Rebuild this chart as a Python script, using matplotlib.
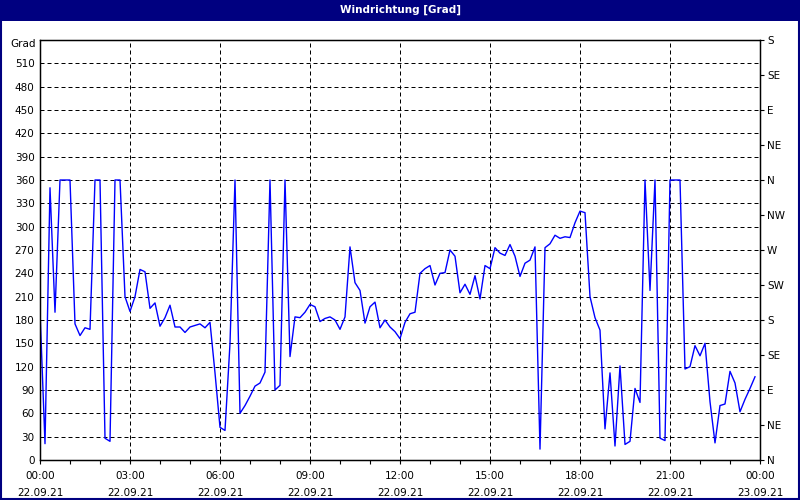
import numpy as np
import pandas as pd
import matplotlib
matplotlib.use('Agg')
import matplotlib.pyplot as plt
import matplotlib.dates as mdates
from matplotlib.patches import Rectangle

# wind direction every 10 minutes, 22.09.21 00:00 .. 23:50
direction = [192, 21, 350, 190, 360, 360, 360, 175, 160, 170,
             168, 360, 360, 28, 24, 360, 360, 210, 191, 210,
             245, 242, 195, 202, 172, 183, 199, 171, 171, 164,
             171, 173, 175, 170, 177, 112, 42, 38, 150, 360,
             60, 70, 82, 95, 99, 113, 360, 90, 96, 360,
             133, 184, 183, 190, 200, 197, 178, 182, 184, 180,
             168, 184, 274, 228, 218, 176, 197, 203, 170, 180,
             171, 165, 156, 177, 188, 190, 240, 246, 250, 225,
             240, 241, 270, 262, 215, 226, 213, 237, 207, 250,
             246, 273, 266, 263, 277, 262, 236, 253, 257, 274,
             14, 273, 278, 289, 285, 287, 286, 305, 320, 318,
             210, 183, 167, 40, 112, 18, 121, 20, 24, 92,
             74, 360, 218, 360, 28, 25, 360, 360, 360, 117,
             120, 147, 134, 150, 75, 22, 70, 72, 114, 99,
             62, 78, 92, 107]
times = pd.date_range('2021-09-22 00:00', periods=len(direction), freq='10min')

left_ticks = list(range(0, 540, 30))
compass_ticks = list(range(0, 541, 45))
compass_labels = ['N', 'NE', 'E', 'SE', 'S', 'SW', 'W', 'NW', 'N', 'NE', 'E', 'SE', 'S']

navy = '#000080'
plt.rcParams['font.family'] = 'DejaVu Sans'
plt.rcParams['font.size'] = 7.5

fig = plt.figure(figsize=(8, 5), dpi=100, facecolor='white')

# title bar and frame
fig.patches.append(Rectangle((0, 1 - 21 / 500), 1, 21 / 500, transform=fig.transFigure,
                             facecolor=navy, edgecolor='none', zorder=0))
fig.patches.append(Rectangle((0.001, 0.002), 0.998, 0.996, transform=fig.transFigure,
                             facecolor='none', edgecolor=navy, linewidth=1.5, zorder=1))
fig.text(0.5, 1 - 10 / 500, 'Windrichtung [Grad]', color='white', fontweight='bold',
         ha='center', va='center', fontsize=7.5)

ax = fig.add_axes([40 / 800, 40 / 500, 720 / 800, 420 / 500])
ax.plot(times, direction, color='#0000FF', linewidth=1)

ax.set_xlim(pd.Timestamp('2021-09-22 00:00'), pd.Timestamp('2021-09-23 00:00'))
ax.set_ylim(0, 540)

ax.xaxis.set_major_locator(mdates.HourLocator(interval=3))
ax.xaxis.set_minor_locator(mdates.HourLocator())
ax.xaxis.set_major_formatter(mdates.DateFormatter('%H:%M\n%d.%m.%y'))
ax.tick_params(axis='x', which='both', direction='out', length=3, width=0.8, pad=5)
plt.setp(ax.get_xticklabels(), linespacing=1.9)

ax.set_yticks(left_ticks)
ax.tick_params(axis='y', length=0, pad=4)
ax.text(-4 / 720, 535, 'Grad', transform=ax.get_yaxis_transform(), ha='right', va='center')

ax.grid(True, which='major', color='black', linewidth=0.72, linestyle=(0, (4, 3)))
for s in ax.spines.values():
    s.set_linewidth(1)
    s.set_color('black')

ax2 = ax.twinx()
ax2.set_ylim(0, 540)
ax2.set_yticks(compass_ticks)
ax2.set_yticklabels(compass_labels)
ax2.tick_params(axis='y', direction='out', length=3, width=0.8, pad=2)

fig.savefig('out.png', dpi=100, facecolor='white')
